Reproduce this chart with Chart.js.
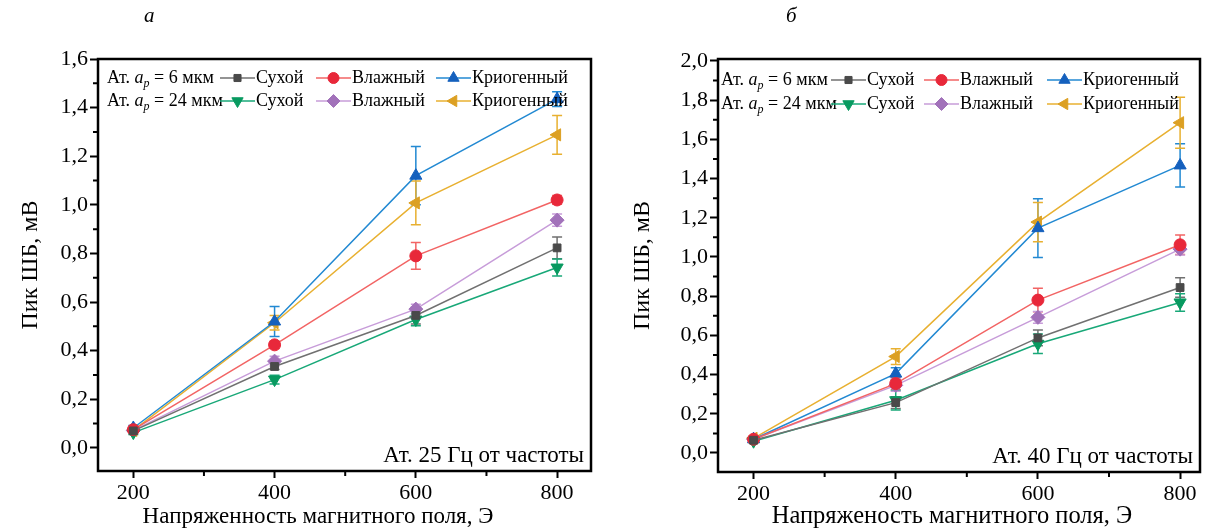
<!DOCTYPE html>
<html>
<head>
<meta charset="UTF-8">
<title>Пик ШБ от напряженности магнитного поля</title>
<script src="https://cdn.jsdelivr.net/npm/chart.js"></script>
<style>
  body { margin: 0; background: #fff; }
  #wrap { position: relative; width: 1213px; height: 530px; font-family: "Liberation Serif", serif; }
  .panel { position: absolute; top: 0; height: 530px; }
  .letter { position: absolute; top: 3px; font-style: italic; font-size: 21px; color: #000; }
</style>
</head>
<body>
<div id="wrap">
  <div class="panel" style="left:0;width:605px"><canvas id="chartA"></canvas></div>
  <div class="panel" style="left:605px;width:608px"><canvas id="chartB"></canvas></div>
  <div class="letter" style="left:144px">а</div>
  <div class="letter" style="left:786px">б</div>
</div>
<script>
// напряженность поля, Э
const fields = [200, 400, 600, 800];

// а) 25 Гц
const aDry6     = [0.070, 0.335, 0.545, 0.823];
const aDry6Err  = [0.008, 0.012, 0.035, 0.045];
const aWet6     = [0.075, 0.424, 0.790, 1.020];
const aWet6Err  = [0.008, 0.015, 0.055, 0.018];
const aCryo6    = [0.082, 0.520, 1.120, 1.435];
const aCryo6Err = [0.010, 0.062, 0.120, 0.030];
const aDry24     = [0.063, 0.281, 0.528, 0.742];
const aDry24Err  = [0.008, 0.018, 0.025, 0.035];
const aWet24     = [0.072, 0.357, 0.571, 0.937];
const aWet24Err  = [0.008, 0.020, 0.020, 0.025];
const aCryo24    = [0.072, 0.515, 1.008, 1.288];
const aCryo24Err = [0.008, 0.030, 0.090, 0.080];

// б) 40 Гц
const bDry6     = [0.065, 0.257, 0.587, 0.844];
const bDry6Err  = [0.008, 0.030, 0.040, 0.050];
const bWet6     = [0.070, 0.354, 0.780, 1.062];
const bWet6Err  = [0.008, 0.030, 0.060, 0.050];
const bCryo6    = [0.070, 0.405, 1.147, 1.467];
const bCryo6Err = [0.010, 0.030, 0.150, 0.110];
const bDry24     = [0.060, 0.269, 0.557, 0.768];
const bDry24Err  = [0.008, 0.050, 0.050, 0.045];
const bWet24     = [0.070, 0.345, 0.692, 1.040];
const bWet24Err  = [0.008, 0.030, 0.030, 0.030];
const bCryo24    = [0.075, 0.492, 1.178, 1.685];
const bCryo24Err = [0.010, 0.040, 0.100, 0.130];

const aYTicks = [0, 0.2, 0.4, 0.6, 0.8, 1.0, 1.2, 1.4, 1.6];
const bYTicks = [0, 0.2, 0.4, 0.6, 0.8, 1.0, 1.2, 1.4, 1.6, 1.8, 2.0];
const xMinorTicks = [300, 500, 700];

// сухой, влажный, криогенный (6 мкм), затем то же для 24 мкм
const seriesStyle = [
  { label: 'Сухой',      line: '#707070', marker: '#4a4a4a', pointStyle: 'rect',     rotation: 0,   radius: 5.5 },
  { label: 'Влажный',    line: '#f26464', marker: '#e8283a', pointStyle: 'circle',   rotation: 0,   radius: 6 },
  { label: 'Криогенный', line: '#2289d2', marker: '#1560bd', pointStyle: 'triangle', rotation: 0,   radius: 7 },
  { label: 'Сухой',      line: '#18a878', marker: '#089a60', pointStyle: 'triangle', rotation: 180, radius: 7 },
  { label: 'Влажный',    line: '#c79cd9', marker: '#a272ba', pointStyle: 'rectRot',  rotation: 0,   radius: 7 },
  { label: 'Криогенный', line: '#e8b030', marker: '#dca023', pointStyle: 'triangle', rotation: 270, radius: 7 }
];

function buildDatasets(series) {
  return series.map(([vals, errs], k) => {
    const st = seriesStyle[k];
    return {
      label: st.label,
      data: fields.map((x, i) => ({ x: x, y: vals[i] })),
      errors: errs,
      borderColor: st.line,
      backgroundColor: st.marker,
      pointBackgroundColor: st.marker,
      pointBorderColor: st.marker,
      pointStyle: st.pointStyle,
      pointRotation: st.rotation,
      pointRadius: st.radius,
      pointBorderWidth: 1,
      borderWidth: 1.5,
      tension: 0
    };
  });
}

// вертикальные планки погрешностей
const errorBars = {
  id: 'errorBars',
  beforeDatasetsDraw(chart) {
    const { ctx, scales: { x, y } } = chart;
    ctx.save();
    ctx.lineWidth = 1.5;
    chart.data.datasets.forEach(ds => {
      ctx.strokeStyle = ds.borderColor;
      ds.data.forEach((p, i) => {
        const e = ds.errors[i];
        const px = x.getPixelForValue(p.x);
        const top = y.getPixelForValue(p.y + e);
        const bot = y.getPixelForValue(p.y - e);
        ctx.beginPath();
        ctx.moveTo(px, top); ctx.lineTo(px, bot);
        ctx.moveTo(px - 5, top); ctx.lineTo(px + 5, top);
        ctx.moveTo(px - 5, bot); ctx.lineTo(px + 5, bot);
        ctx.stroke();
      });
    });
    ctx.restore();
  }
};

// рамка вокруг области графика, промежуточные засечки, подпись оси X
const frame = {
  id: 'frame',
  afterDraw(chart, args, opts) {
    const { ctx, chartArea: a, scales: { x, y } } = chart;
    ctx.save();
    ctx.strokeStyle = '#000';
    ctx.lineWidth = 2.5;
    ctx.strokeRect(a.left, a.top, a.right - a.left, a.bottom - a.top);
    ctx.lineWidth = 2;
    ctx.beginPath();
    xMinorTicks.forEach(v => {
      const px = x.getPixelForValue(v);
      ctx.moveTo(px, a.bottom); ctx.lineTo(px, a.bottom + 5);
    });
    for (let i = 0; i < opts.yTicks.length - 1; i++) {
      const py = y.getPixelForValue((opts.yTicks[i] + opts.yTicks[i + 1]) / 2);
      ctx.moveTo(a.left, py); ctx.lineTo(a.left - 5, py);
    }
    ctx.stroke();

    ctx.fillStyle = '#000';
    ctx.font = opts.xTitleSize + 'px "Liberation Serif", serif';
    ctx.textAlign = 'center';
    ctx.textBaseline = 'alphabetic';
    ctx.fillText(opts.xTitle, opts.xTitleX, chart.height - 7);
    ctx.restore();
  }
};

// легенда в две строки и подпись частоты
const seriesLegend = {
  id: 'seriesLegend',
  afterDraw(chart, args, opts) {
    const { ctx, chartArea: a } = chart;
    const serif = '"Liberation Serif", serif';
    ctx.save();
    ctx.textBaseline = 'middle';
    opts.rows.forEach((row, r) => {
      const cy = a.top + opts.rowY[r];
      let cx = a.left + opts.textX;
      ctx.fillStyle = '#000';
      ctx.font = '18px ' + serif;
      ctx.fillText('Ат. ', cx, cy); cx += ctx.measureText('Ат. ').width;
      ctx.font = 'italic 18px ' + serif;
      ctx.fillText('a', cx, cy); cx += ctx.measureText('a').width;
      ctx.font = 'italic 12px ' + serif;
      ctx.fillText('p', cx, cy + 6); cx += ctx.measureText('p').width;
      ctx.font = '18px ' + serif;
      ctx.fillText(' = ' + row.depth + ' мкм', cx, cy);

      row.items.forEach((di, k) => {
        const ds = chart.data.datasets[di];
        const sx = a.left + opts.sampleX[k];
        ctx.strokeStyle = ds.borderColor;
        ctx.lineWidth = 1.5;
        ctx.beginPath(); ctx.moveTo(sx, cy); ctx.lineTo(sx + opts.sampleW, cy); ctx.stroke();
        ctx.fillStyle = ds.pointBackgroundColor;
        ctx.strokeStyle = ds.pointBorderColor;
        ctx.lineWidth = 1;
        Chart.helpers.drawPoint(ctx, {
          pointStyle: ds.pointStyle, rotation: ds.pointRotation,
          radius: ds.pointRadius - 0.5, borderWidth: 1
        }, sx + opts.sampleW / 2, cy);
        ctx.fillStyle = '#000';
        ctx.font = '18px ' + serif;
        ctx.fillText(ds.label, sx + opts.sampleW + 1, cy);
      });
    });
    ctx.font = '23px ' + serif;
    ctx.fillStyle = '#000';
    ctx.textAlign = 'right';
    ctx.textBaseline = 'alphabetic';
    ctx.fillText(opts.note, a.right - 7, a.bottom - 9);
    ctx.restore();
  }
};

Chart.defaults.font.family = '"Liberation Serif", serif';
Chart.defaults.color = '#000';

function makeChart(id, datasets, cfg) {
  return new Chart(document.getElementById(id), {
    type: 'line',
    data: { datasets: datasets },
    plugins: [errorBars, frame, seriesLegend],
    options: {
      animation: false,
      responsive: true,
      maintainAspectRatio: false,
      layout: { padding: { top: 59, right: cfg.padRight, bottom: 0, left: 0 } },
      scales: {
        x: {
          type: 'linear',
          min: cfg.xMin,
          max: cfg.xMax,
          afterBuildTicks: s => { s.ticks = fields.map(v => ({ value: v })); },
          afterFit: s => { s.height = cfg.xHeight; },
          ticks: { font: { size: 22 }, padding: 2, callback: v => String(v) },
          grid: { drawOnChartArea: false, tickLength: 7, tickWidth: 2, tickColor: '#000' },
          border: { display: false },
          title: { display: false }
        },
        y: {
          min: cfg.yMin,
          max: cfg.yMax,
          afterBuildTicks: s => { s.ticks = cfg.yTicks.map(v => ({ value: v })); },
          afterFit: s => { s.width = cfg.yWidth; },
          ticks: { font: { size: 22 }, padding: 2, callback: v => v.toFixed(1).replace('.', ',') },
          grid: { drawOnChartArea: false, tickLength: 8, tickWidth: 2, tickColor: '#000' },
          border: { display: false },
          title: { display: true, text: 'Пик ШБ, мВ', font: { size: 24 }, padding: { top: cfg.yTitlePad, bottom: 0 } }
        }
      },
      plugins: {
        legend: { display: false },
        tooltip: { enabled: false },
        frame: { yTicks: cfg.yTicks, xTitle: cfg.xTitle, xTitleX: cfg.xTitleX, xTitleSize: cfg.xTitleSize },
        seriesLegend: {
          rows: [{ depth: 6, items: [0, 1, 2] }, { depth: 24, items: [3, 4, 5] }],
          rowY: cfg.rowY,
          textX: cfg.textX,
          sampleX: cfg.sampleX,
          sampleW: 35,
          note: cfg.note
        }
      }
    }
  });
}

makeChart('chartA', buildDatasets([
  [aDry6, aDry6Err], [aWet6, aWet6Err], [aCryo6, aCryo6Err],
  [aDry24, aDry24Err], [aWet24, aWet24Err], [aCryo24, aCryo24Err]
]), {
  xMin: 150, xMax: 848, yMin: -0.095, yMax: 1.6, yTicks: aYTicks,
  padRight: 14, yWidth: 98, xHeight: 59, yTitlePad: 16,
  xTitle: 'Напряженность магнитного поля, Э', xTitleX: 318, xTitleSize: 23,
  rowY: [19, 42], textX: 9, sampleX: [122, 218, 338],
  note: 'Ат. 25 Гц от частоты'
});

makeChart('chartB', buildDatasets([
  [bDry6, bDry6Err], [bWet6, bWet6Err], [bCryo6, bCryo6Err],
  [bDry24, bDry24Err], [bWet24, bWet24Err], [bCryo24, bCryo24Err]
]), {
  xMin: 150, xMax: 828, yMin: -0.097, yMax: 2.01, yTicks: bYTicks,
  padRight: 13, yWidth: 113, xHeight: 58, yTitlePad: 23,
  xTitle: 'Напряженость магнитного поля, Э', xTitleX: 347, xTitleSize: 24.5,
  rowY: [21, 45], textX: 3, sampleX: [113, 206, 329],
  note: 'Ат. 40 Гц от частоты'
});
</script>
</body>
</html>
